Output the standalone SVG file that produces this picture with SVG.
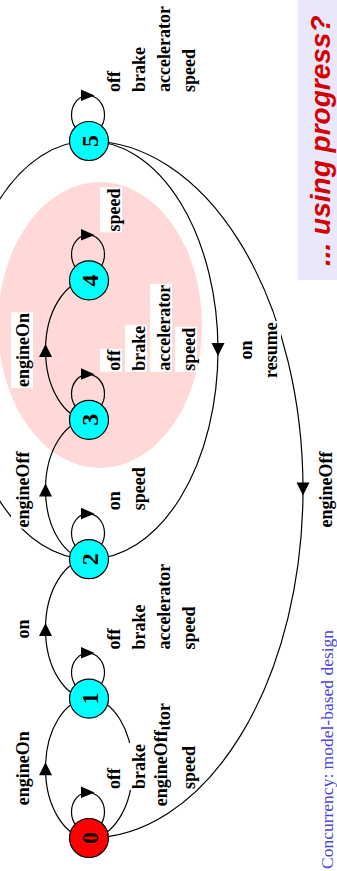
<svg xmlns="http://www.w3.org/2000/svg" width="337" height="871" viewBox="0 0 337 871">
  <style>
    .arc { fill: none; stroke: #000; stroke-width: 1.2; }
    .head { fill: #000; }
    .node { stroke: #000; stroke-width: 1.2; }
    .st { fill: #00ffff; }
    .st0 { fill: #ff0000; }
    .num { font-family: "Liberation Serif", "Times New Roman", serif; font-weight: bold; font-size: 24px; fill: #000; text-anchor: middle; }
    .lbl { font-family: "Liberation Serif", "Times New Roman", serif; font-weight: bold; font-size: 18px; fill: #000; }
    .bg { fill: #fff; }
    .mid { text-anchor: middle; }
  </style>
  <defs>
    <!-- self-loop with its arrowhead, origin at the state centre -->
    <g id="loop">
      <ellipse class="arc" cx="88" cy="-26" rx="16.5" ry="19.5"/>
      <polygon class="head" points="81,-51.5 81,-40 94.5,-45.5"/>
    </g>
    <polygon id="up" class="head" points="-6.5,7 6.5,7 0,-6"/>
    <polygon id="down" class="head" points="-6.5,-7 6.5,-7 0,6"/>
  </defs>

  <!-- cluster of states 3 and 4 -->
  <ellipse cx="100" cy="325" rx="102" ry="143" fill="#ffd8d8"/>

  <!-- side panel -->
  <rect x="297.5" y="0" width="40" height="280" fill="#e8e8fa"/>
  <text transform="translate(330,266) rotate(-90)" font-family="Liberation Sans, Arial, sans-serif" font-weight="bold" font-style="italic" font-size="28" fill="#d40000">... using progress?</text>

  <!-- footer -->
  <text transform="translate(332.5,869) rotate(-90)" font-family="Liberation Serif, Times New Roman, serif" font-size="17.5" fill="#4848d8">Concurrency: model-based design</text>

  <g id="connectors">
    <!-- forward transitions (left side) -->
    <path class="arc" d="M89,838 A43.5,69.7 0 0 1 89,698.6"/>
    <path class="arc" d="M89,698.6 A43.5,69.7 0 0 1 89,559.2"/>
    <path class="arc" d="M89,559.2 A43.5,69.7 0 0 1 89,419.8"/>
    <path class="arc" d="M89,419.8 A43.5,69.7 0 0 1 89,280.4"/>
    <path class="arc" d="M89,559.2 A129,209.1 0 0 1 89,141"/>
    <use href="#up" x="45.5" y="768.3"/>
    <use href="#up" x="45.5" y="628.9"/>
    <use href="#up" x="45.5" y="489.5"/>
    <use href="#up" x="45.5" y="350.1"/>
    <!-- backward transitions (right side) -->
    <path class="arc" d="M89,698.6 A43.5,69.7 0 0 1 89,838"/>
    <path class="arc" d="M89,141 A129,209.1 0 0 1 89,559.2"/>
    <path class="arc" d="M89,141 A214,348.5 0 0 1 89,838"/>
    <use href="#down" x="132.5" y="768.3"/>
    <use href="#down" x="218" y="350.1"/>
    <use href="#down" x="303" y="489.5"/>
    <!-- self-loops -->
    <use href="#loop" y="838"/>
    <use href="#loop" y="698.6"/>
    <use href="#loop" y="559.2"/>
    <use href="#loop" y="419.8"/>
    <use href="#loop" y="280.4"/>
    <use href="#loop" y="141"/>
  </g>

  <g id="s0"><circle class="node st0" cx="89" cy="838" r="19.5"/><text class="num" transform="translate(98,838) rotate(-90)">0</text></g>
  <g id="s1"><circle class="node st" cx="89" cy="698.6" r="19.5"/><text class="num" transform="translate(98,698.6) rotate(-90)">1</text></g>
  <g id="s2"><circle class="node st" cx="89" cy="559.2" r="19.5"/><text class="num" transform="translate(98,559.2) rotate(-90)">2</text></g>
  <g id="s3"><circle class="node st" cx="89" cy="419.8" r="19.5"/><text class="num" transform="translate(98,419.8) rotate(-90)">3</text></g>
  <g id="s4"><circle class="node st" cx="89" cy="280.4" r="19.5"/><text class="num" transform="translate(98,280.4) rotate(-90)">4</text></g>
  <g id="s5"><circle class="node st" cx="89" cy="141" r="19.5"/><text class="num" transform="translate(98,141) rotate(-90)">5</text></g>

  <!-- self-loop labels -->
  <g id="loop-labels">
    <g transform="translate(0,92) rotate(-90)">
      <rect class="bg" x="-1" y="100" width="23" height="22"/><text class="lbl" y="120">off</text>
      <rect class="bg" x="-1" y="125" width="47" height="22"/><text class="lbl" y="145">brake</text>
      <rect class="bg" x="-1" y="150" width="88" height="22"/><text class="lbl" y="170">accelerator</text>
      <rect class="bg" x="-1" y="175" width="45" height="22"/><text class="lbl" y="195">speed</text>
    </g>
    <g transform="translate(0,231.4) rotate(-90)">
      <rect class="bg" x="-1" y="100" width="45" height="22"/><text class="lbl" y="120">speed</text>
    </g>
    <g transform="translate(0,370.8) rotate(-90)">
      <rect class="bg" x="-1" y="100" width="23" height="22"/><text class="lbl" y="120">off</text>
      <rect class="bg" x="-1" y="125" width="47" height="22"/><text class="lbl" y="145">brake</text>
      <rect class="bg" x="-1" y="150" width="88" height="22"/><text class="lbl" y="170">accelerator</text>
      <rect class="bg" x="-1" y="175" width="45" height="22"/><text class="lbl" y="195">speed</text>
    </g>
    <g transform="translate(0,510.2) rotate(-90)">
      <rect class="bg" x="-1" y="100" width="21" height="22"/><text class="lbl" y="120">on</text>
      <rect class="bg" x="-1" y="125" width="45" height="22"/><text class="lbl" y="145">speed</text>
    </g>
    <g transform="translate(0,649.6) rotate(-90)">
      <rect class="bg" x="-1" y="100" width="23" height="22"/><text class="lbl" y="120">off</text>
      <rect class="bg" x="-1" y="125" width="47" height="22"/><text class="lbl" y="145">brake</text>
      <rect class="bg" x="-1" y="150" width="88" height="22"/><text class="lbl" y="170">accelerator</text>
      <rect class="bg" x="-1" y="175" width="45" height="22"/><text class="lbl" y="195">speed</text>
    </g>
    <g transform="translate(0,789) rotate(-90)">
      <rect class="bg" x="-1" y="100" width="23" height="22"/><text class="lbl" y="120">off</text>
      <rect class="bg" x="-1" y="125" width="47" height="22"/><text class="lbl" y="145">brake</text>
      <rect class="bg" x="-1" y="150" width="88" height="22"/><text class="lbl" y="170">accelerator</text>
      <rect class="bg" x="-1" y="175" width="45" height="22"/><text class="lbl" y="195">speed</text>
    </g>
  </g>

  <!-- transition labels -->
  <g id="arc-labels">
    <g transform="translate(29,768.3) rotate(-90)"><rect class="bg" x="-38" y="-18" width="76" height="22"/><text class="lbl mid">engineOn</text></g>
    <g transform="translate(29,628.9) rotate(-90)"><rect class="bg" x="-10.5" y="-18" width="21" height="22"/><text class="lbl mid">on</text></g>
    <g transform="translate(29,489.5) rotate(-90)"><rect class="bg" x="-39" y="-18" width="78" height="22"/><text class="lbl mid">engineOff</text></g>
    <g transform="translate(29,350.1) rotate(-90)"><rect class="bg" x="-38" y="-18" width="76" height="22"/><text class="lbl mid">engineOn</text></g>
    <g transform="translate(167,768.3) rotate(-90)"><rect class="bg" x="-39" y="-18" width="78" height="22"/><text class="lbl mid">engineOff</text></g>
    <g transform="translate(0,350.1) rotate(-90)">
      <rect class="bg" x="-10.5" y="234" width="21" height="22"/><text class="lbl mid" y="252">on</text>
      <rect class="bg" x="-29" y="259" width="58" height="22"/><text class="lbl mid" y="277">resume</text>
    </g>
    <g transform="translate(332,489.5) rotate(-90)"><rect class="bg" x="-39" y="-18" width="78" height="22"/><text class="lbl mid">engineOff</text></g>
  </g>
</svg>
